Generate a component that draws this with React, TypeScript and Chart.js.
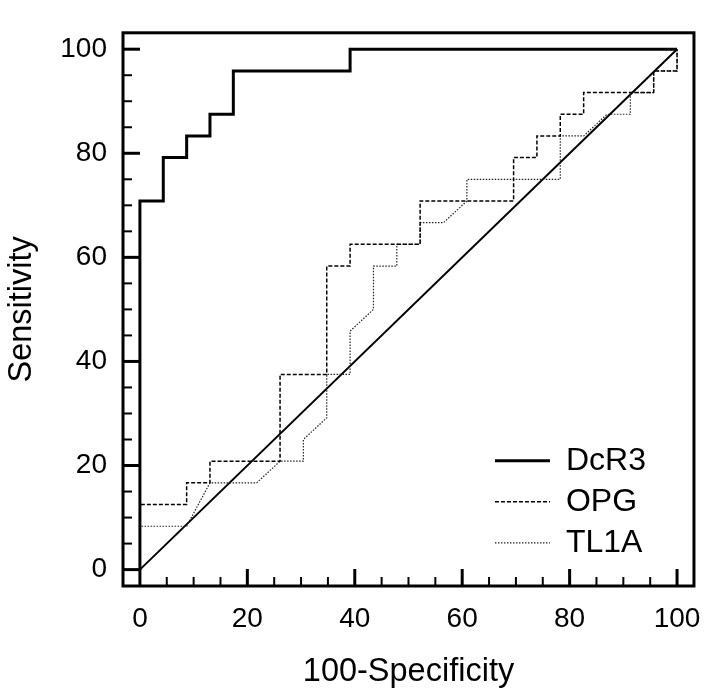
import React, { useEffect, useRef } from 'react';
import { Chart, registerables } from 'chart.js';

Chart.register(...registerables);

// ROC curve data (100-Specificity, Sensitivity)
const dcr3X = [0, 0, 4.35, 4.35, 8.7, 8.7, 13.04, 13.04, 17.39, 17.39, 39.13, 39.13, 100];
const dcr3Y = [0, 70.83, 70.83, 79.17, 79.17, 83.33, 83.33, 87.5, 87.5, 95.83, 95.83, 100, 100];

const opgX = [0, 0, 8.7, 8.7, 13.04, 13.04, 26.09, 26.09, 34.78, 34.78, 39.13, 39.13, 52.17, 52.17, 69.57, 69.57, 73.91, 73.91, 78.26, 78.26, 82.61, 82.61, 95.65, 95.65, 100, 100];
const opgY = [0, 12.5, 12.5, 16.67, 16.67, 20.83, 20.83, 37.5, 37.5, 58.33, 58.33, 62.5, 62.5, 70.83, 70.83, 79.17, 79.17, 83.33, 83.33, 87.5, 87.5, 91.67, 91.67, 95.83, 95.83, 100];

const tl1aX = [0, 0, 8.7, 13.04, 21.74, 26.09, 30.43, 30.43, 34.78, 34.78, 39.13, 39.13, 43.48, 43.48, 47.83, 47.83, 52.17, 52.17, 56.52, 60.87, 60.87, 78.26, 78.26, 82.61, 86.96, 91.3, 91.3, 95.65, 95.65, 100, 100];
const tl1aY = [0, 8.33, 8.33, 16.67, 16.67, 20.83, 20.83, 25, 29.17, 37.5, 37.5, 45.83, 50, 58.33, 58.33, 62.5, 62.5, 66.67, 66.67, 70.83, 75, 75, 83.33, 83.33, 87.5, 87.5, 91.67, 91.67, 95.83, 95.83, 100];

const refX = [0, 100];
const refY = [0, 100];

const seriesNames = ['DcR3', 'OPG', 'TL1A'];
const majorTicks = [0, 20, 40, 60, 80, 100];
const minorTicks = [0, 5, 10, 15, 20, 25, 30, 35, 40, 45, 50, 55, 60, 65, 70, 75, 80, 85, 90, 95, 100];

const toPoints = (xs: number[], ys: number[]) => xs.map((x, i) => ({ x, y: ys[i] }));

const framePlugin = {
  id: 'frameTicks',
  afterDatasetsDraw(chart: any) {
    const { ctx, chartArea: a, scales } = chart;
    ctx.save();
    ctx.strokeStyle = '#000';
    ctx.setLineDash([]);
    ctx.lineWidth = 3;
    ctx.strokeRect(a.left, a.top, a.right - a.left, a.bottom - a.top);
    minorTicks.forEach((v) => {
      const major = majorTicks.includes(v);
      const len = major ? 17 : 9;
      ctx.lineWidth = major ? 3 : 2;
      const px = scales.x.getPixelForValue(v);
      ctx.beginPath();
      ctx.moveTo(px, a.bottom);
      ctx.lineTo(px, a.bottom - len);
      ctx.stroke();
      const py = scales.y.getPixelForValue(v);
      ctx.beginPath();
      ctx.moveTo(a.left, py);
      ctx.lineTo(a.left + len, py);
      ctx.stroke();
    });
    ctx.restore();
  },
};

const legendPlace = {
  id: 'legendPlace',
  afterLayout(chart: any) {
    const l = chart.legend;
    if (!l) return;
    const a = chart.chartArea;
    l.left = a.right - 208;
    l.top = a.top + 403;
    l.right = l.left + 210;
    l.bottom = l.top + 200;
  },
};

export default function App() {
  const ref = useRef<HTMLCanvasElement | null>(null);

  useEffect(() => {
    if (!ref.current) return;
    Chart.defaults.font.family = '"Liberation Sans", Arial, Helvetica, sans-serif';
    Chart.defaults.color = '#000';
    const chart = new Chart(ref.current, {
      type: 'scatter',
      data: {
        datasets: [
          {
            label: seriesNames[0],
            data: toPoints(dcr3X, dcr3Y),
            showLine: true,
            borderColor: '#000',
            backgroundColor: '#000',
            borderWidth: 3,
            pointRadius: 0,
            tension: 0,
          },
          {
            label: seriesNames[1],
            data: toPoints(opgX, opgY),
            showLine: true,
            borderColor: '#000',
            backgroundColor: '#000',
            borderWidth: 1.5,
            borderDash: [4, 2],
            pointRadius: 0,
          },
          {
            label: seriesNames[2],
            data: toPoints(tl1aX, tl1aY),
            showLine: true,
            borderColor: '#222',
            backgroundColor: '#222',
            borderWidth: 1.2,
            borderDash: [1.5, 1.5],
            pointRadius: 0,
          },
          {
            label: 'ref',
            data: toPoints(refX, refY),
            showLine: true,
            borderColor: '#000',
            backgroundColor: '#000',
            borderWidth: 2,
            pointRadius: 0,
          },
        ],
      },
      options: {
        animation: false,
        responsive: true,
        maintainAspectRatio: false,
        layout: { padding: { top: 12, right: 20, left: 0, bottom: 0 } },
        plugins: {
          tooltip: { enabled: false },
          legend: {
            position: 'chartArea',
            align: 'start',
            labels: {
              generateLabels: (c: any) => {
                const items = (Chart.defaults.plugins.legend.labels as any).generateLabels(c);
                return items
                  .filter((it: any) => it.datasetIndex < 3)
                  .map((it: any) => {
                    const ds: any = c.data.datasets[it.datasetIndex];
                    return {
                      ...it,
                      lineDash: ds.borderDash || [],
                      lineWidth: ds.borderWidth,
                      strokeStyle: ds.borderColor,
                      pointStyle: 'line',
                    };
                  });
              },
              usePointStyle: true,
              pointStyle: 'line',
              pointStyleWidth: 55,
              boxWidth: 55,
              padding: 9,
              color: '#000',
              font: { size: 32 },
            },
          },
        },
        scales: {
          x: {
            type: 'linear',
            position: 'bottom',
            min: -3.15,
            max: 103.15,
            grid: { display: false, drawTicks: false },
            border: { display: false },
            afterBuildTicks: (s: any) => {
              s.ticks = majorTicks.map((v) => ({ value: v }));
            },
            afterFit: (s: any) => {
              s.height = 113;
            },
            ticks: { font: { size: 28 }, padding: 16, color: '#000', maxRotation: 0 },
            title: {
              display: true,
              text: '100-Specificity',
              color: '#000',
              font: { size: 32.5, lineHeight: 1 },
              padding: { top: 0, bottom: 11 },
            },
          },
          y: {
            type: 'linear',
            min: -3.15,
            max: 103.15,
            grid: { display: false, drawTicks: false },
            border: { display: false },
            afterBuildTicks: (s: any) => {
              s.ticks = majorTicks.map((v) => ({ value: v }));
            },
            afterFit: (s: any) => {
              s.width = 123;
            },
            ticks: { font: { size: 28 }, padding: 16, color: '#000' },
            title: {
              display: true,
              text: 'Sensitivity',
              color: '#000',
              font: { size: 32.5, lineHeight: 1 },
              padding: { top: 6, bottom: 0 },
            },
          },
        },
      },
      plugins: [framePlugin, legendPlace],
    });
    return () => chart.destroy();
  }, []);

  return (
    <div style={{ position: 'fixed', left: 0, top: 0, width: 717, height: 699, background: '#fff' }}>
      <canvas ref={ref} />
    </div>
  );
}
